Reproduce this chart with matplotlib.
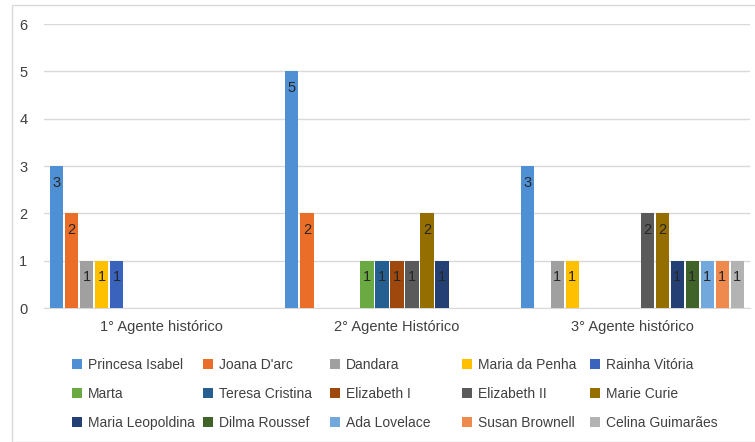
import numpy as np
import matplotlib.pyplot as plt
from matplotlib.patches import Rectangle

plt.rcParams['font.family'] = ['Liberation Sans', 'DejaVu Sans']

categorias = ["1° Agente histórico", "2° Agente Histórico", "3° Agente histórico"]
nomes = ["Princesa Isabel", "Joana D'arc", "Dandara", "Maria da Penha", "Rainha Vitória",
         "Marta", "Teresa Cristina", "Elizabeth I", "Elizabeth II", "Marie Curie",
         "Maria Leopoldina", "Dilma Roussef", "Ada Lovelace", "Susan Brownell", "Celina Guimarães"]
# valores por agente (uma linha por nome, colunas = 1°, 2°, 3°)
valores = [
    [3, 5, 3],
    [2, 2, 0],
    [1, 0, 1],
    [1, 0, 1],
    [1, 0, 0],
    [0, 1, 0],
    [0, 1, 0],
    [0, 1, 0],
    [0, 1, 2],
    [0, 2, 2],
    [0, 1, 1],
    [0, 0, 1],
    [0, 0, 1],
    [0, 0, 1],
    [0, 0, 1],
]
cores = ["#4F8FD3", "#EB6E28", "#A0A0A0", "#FFC000", "#3A63BE",
         "#6BAA42", "#255E91", "#9E480E", "#5A5A5A", "#946E00",
         "#233F73", "#3F6328", "#72A8DC", "#EF8A4E", "#B3B3B3"]

fig = plt.figure(figsize=(7.55, 4.42), dpi=100)
ax = fig.add_axes([44 / 755, 1 - 308 / 442, 706 / 755, 284 / 442])

# moldura externa do gráfico
fig.patches.append(Rectangle((12 / 755, 0), 1, 1 - 5 / 442, transform=fig.transFigure,
                             fill=False, edgecolor="#D9D9D9", linewidth=1))

x = np.arange(len(categorias))
n = len(nomes)
slot = 0.957 / n
largura = 0.056

handles = []
for i, (nome, vals, cor) in enumerate(zip(nomes, valores, cores)):
    pos = x + (i - (n - 1) / 2) * slot
    barras = ax.bar(pos, vals, largura, color=cor, label=nome, zorder=3)
    rotulos = [str(v) if v > 0 else "" for v in vals]
    ax.bar_label(barras, labels=rotulos, label_type="edge", padding=-17,
                 fontsize=10.5, color="#262626", zorder=4)
    handles.append(barras)

ax.set_xlim(-0.5, 2.5)
ax.set_ylim(0, 6)
ax.set_yticks(range(0, 7))
ax.set_xticks(x)
ax.set_xticklabels(categorias, fontsize=10.5, color="#404040")
ax.tick_params(axis="y", length=0, labelsize=10.5, labelcolor="#404040", pad=12)
ax.tick_params(axis="x", length=0, pad=9)
ax.grid(axis="y", color="#D9D9D9", linewidth=1, zorder=0)
for s in ["top", "right", "left"]:
    ax.spines[s].set_visible(False)
ax.spines["bottom"].set_color("#D9D9D9")

# legenda em 5 colunas, lida por linhas
col_x = [72, 203, 330, 462, 590]
for c, cx in enumerate(col_x):
    idx = [r * 5 + c for r in range(3)]
    leg = fig.legend(handles=[handles[k] for k in idx], labels=[nomes[k] for k in idx],
                     loc="upper left", bbox_to_anchor=(cx / 755, 1 - 358 / 442),
                     frameon=False, borderpad=0, borderaxespad=0, fontsize=10,
                     handlelength=0.7, handleheight=0.7, handletextpad=0.45,
                     labelspacing=1.08, labelcolor="#404040")

fig.savefig("out.png", dpi=100)
